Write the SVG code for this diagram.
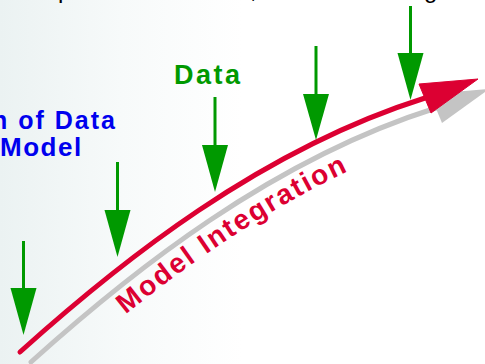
<svg xmlns="http://www.w3.org/2000/svg" width="485" height="364" viewBox="0 0 485 364">
  <defs>
    <linearGradient id="bg" x1="0" y1="0" x2="1" y2="0">
      <stop offset="0" stop-color="#ebf2f2"/>
      <stop offset="0.25" stop-color="#f7fafa"/>
      <stop offset="0.5" stop-color="#ffffff"/>
      <stop offset="1" stop-color="#ffffff"/>
    </linearGradient>
    <path id="tp" d="M42,386 C142,296 282,184 447,132"/>
  </defs>
  <style>
    .sh { stroke: #009900; stroke-width: 3; }
    .hd { fill: #009900; }
    .lbl { font-family: "Liberation Sans", Arial, sans-serif; font-weight: bold; }
    .frag { font-family: "Liberation Sans", Arial, sans-serif; font-size: 24px; fill: #000; }
  </style>
  <rect width="485" height="364" fill="url(#bg)"/>

  <g id="top-text-fragments">
    <text class="frag" x="58" y="-2">p</text>
    <text class="frag" x="250" y="-2">,</text>
    <text class="frag" x="424" y="-2">g</text>
  </g>

  <g id="left-label">
    <text class="lbl" x="117" y="129" font-size="25" fill="#0000ee" letter-spacing="2" text-anchor="end">n of Data</text>
    <text class="lbl" x="0" y="156" font-size="26" fill="#0000ee" letter-spacing="1.5">Model</text>
  </g>

  <g id="data-label">
    <text class="lbl" x="174" y="84" font-size="27" fill="#009900" letter-spacing="2.5">Data</text>
  </g>

  <g id="connectors">
    <g id="gray-shadow" transform="translate(11,10)">
      <path d="M20,352 C120,262 260,150 425,98" fill="none" stroke="#c4c4c4" stroke-width="5" stroke-linecap="round"/>
      <polygon points="419,84 478,79 431,113" fill="#c4c4c4"/>
    </g>
    <g id="model-integration-arrow">
      <path d="M20,352 C120,262 260,150 425,98" fill="none" stroke="#dc0032" stroke-width="5" stroke-linecap="round"/>
      <polygon points="419,84 478,79 431,113" fill="#dc0032" stroke="#dc0032" stroke-width="1" stroke-linejoin="round"/>
    </g>
    <g id="data-arrows">
      <line class="sh" x1="23.5" y1="241" x2="23.5" y2="292"/>
      <polygon class="hd" points="10.5,288 36.5,288 23.5,335"/>
      <line class="sh" x1="117.5" y1="162" x2="117.5" y2="214"/>
      <polygon class="hd" points="104.5,210 130.5,210 117.5,257"/>
      <line class="sh" x1="215" y1="97" x2="215" y2="149"/>
      <polygon class="hd" points="202,145 228,145 215,192"/>
      <line class="sh" x1="316" y1="46" x2="316" y2="98"/>
      <polygon class="hd" points="303,94 329,94 316,140"/>
      <line class="sh" x1="410.5" y1="6" x2="410.5" y2="57"/>
      <polygon class="hd" points="397.5,53 423.5,53 410.5,100"/>
    </g>
  </g>

  <g id="model-integration-label">
    <text class="lbl" font-size="28" fill="#dc0032"><textPath href="#tp" startOffset="110" textLength="265" lengthAdjust="spacing">Model Integration</textPath></text>
  </g>
</svg>
